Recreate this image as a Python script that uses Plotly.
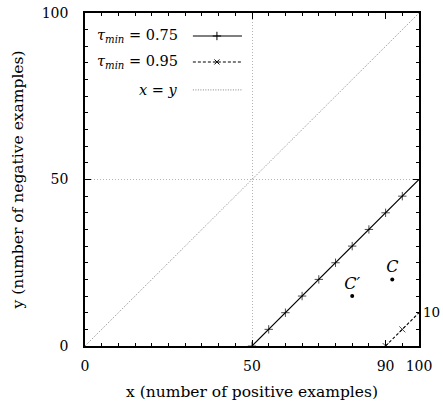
import plotly.graph_objects as go

# ---- data ----
tau075_x = [50, 55, 60, 65, 70, 75, 80, 85, 90, 95, 100]
tau075_y = [0, 5, 10, 15, 20, 25, 30, 35, 40, 45, 50]
tau095_x = [90, 95, 100]
tau095_y = [0, 5, 10]
diag_x = [0, 100]
diag_y = [0, 100]
pts_x = [80, 92]
pts_y = [15, 20]
pts_labels = ["<i>C′</i>", "<i>C</i>"]
xtick_vals = [0, 50, 90, 100]
ytick_vals = [0, 50, 100]
right_tick_vals = [10]
legend_labels = ["<i>τ<sub>min</sub></i> = 0.75", "<i>τ<sub>min</sub></i> = 0.95", "<i>x</i> = <i>y</i>"]

FONT = "DejaVu Serif"
GRID = "#b4b4b4"
fig = go.Figure()

# x = y dotted
fig.add_trace(go.Scatter(x=diag_x, y=diag_y, mode="lines", xaxis="x3",
                         line=dict(color="#666666", width=0.8, dash="1px,1.5px"), showlegend=False))
# tau 0.75
fig.add_trace(go.Scatter(x=tau075_x, y=tau075_y, mode="lines+markers",
                         line=dict(color="black", width=1.1),
                         marker=dict(symbol="cross-thin-open", color="black",
                                     size=[6]*(len(tau075_x)-1)+[0],
                                     line=dict(color="black", width=1)),
                         showlegend=False))
# tau 0.95
fig.add_trace(go.Scatter(x=tau095_x, y=tau095_y, mode="lines+markers",
                         line=dict(color="black", width=1.1, dash="3px,2px"),
                         marker=dict(symbol="x-thin-open", color="black",
                                     size=[6]*(len(tau095_x)-1)+[0],
                                     line=dict(color="black", width=1)),
                         showlegend=False))
# points C', C
fig.add_trace(go.Scatter(x=pts_x, y=pts_y, mode="markers+text", yaxis="y2",
                         text=pts_labels, textposition="top center",
                         textfont=dict(family=FONT, size=16, color="black"),
                         marker=dict(color="black", size=4), showlegend=False))

# ---- custom gnuplot-style key (overlay axes in plot-fraction units) ----
key_rows = [0.931, 0.853, 0.769]
key_x0, key_xm, key_x1 = 0.323, 0.395, 0.470
key_text_x = 0.284
styles = [
    dict(line=dict(color="black", width=1.1), sym="cross-thin-open", size=6),
    dict(line=dict(color="black", width=1.1, dash="3px,2px"), sym="x-thin-open", size=5),
    dict(line=dict(color="#666666", width=0.8, dash="1px,1.5px"), sym=None, size=0),
]
for row, st, lab in zip(key_rows, styles, legend_labels):
    fig.add_trace(go.Scatter(x=[key_x0, key_x1], y=[row, row], mode="lines", xaxis="x4", yaxis="y4",
                             line=st["line"], showlegend=False))
    if st["sym"]:
        fig.add_trace(go.Scatter(x=[key_xm], y=[row], mode="markers", xaxis="x4", yaxis="y4",
                                 marker=dict(symbol=st["sym"], size=st["size"], color="black",
                                             line=dict(color="black", width=1)),
                                 showlegend=False))
    fig.add_annotation(x=key_text_x, y=row, xref="x4", yref="y4", text=lab, showarrow=False,
                       xanchor="right", yanchor="middle",
                       font=dict(family=FONT, size=14.5, color="black"))

axis_common = dict(range=[0, 100], showline=True, linecolor="black", linewidth=1.5, mirror="ticks",
                   ticks="inside", ticklen=6, tickwidth=1, tickcolor="black", zeroline=False,
                   automargin=False, tickfont=dict(family=FONT, size=14, color="black"))

fig.update_layout(
    width=443, height=407,
    margin=dict(l=85, r=24, t=13, b=61, autoexpand=False),
    paper_bgcolor="white", plot_bgcolor="white",
    font=dict(family=FONT, size=14, color="black"),
    xaxis=dict(**axis_common, tickmode="array", tickvals=xtick_vals, showgrid=False,
               minor=dict(tickmode="linear", tick0=0, dtick=5, ticks="inside", ticklen=3,
                          tickcolor="black", showgrid=False),
               ticklabelstandoff=6,
               title=dict(text="x (number of positive examples)", standoff=14,
                          font=dict(family=FONT, size=15.5))),
    yaxis=dict(**axis_common, tickmode="array", tickvals=ytick_vals, showgrid=True,
               gridcolor=GRID, griddash="1px,2px", gridwidth=0.8,
               minor=dict(tickmode="linear", tick0=0, dtick=5, ticks="inside", ticklen=3,
                          tickcolor="black", showgrid=False),
               ticklabelstandoff=12,
               title=dict(text="y (number of negative examples)", standoff=14,
                          font=dict(family=FONT, size=15.5))),
    xaxis3=dict(overlaying="x", range=[0, 100], tickmode="array", tickvals=[50], showgrid=True,
                gridcolor=GRID, griddash="1px,2px", gridwidth=0.8, showticklabels=False,
                ticks="", showline=False, zeroline=False, automargin=False),
    yaxis2=dict(overlaying="y", side="right", range=[0, 100], tickmode="array",
                tickvals=right_tick_vals, ticks="", showline=False, showgrid=False, zeroline=False,
                automargin=False, ticklabelstandoff=3,
                tickfont=dict(family=FONT, size=13.5, color="black")),
    xaxis4=dict(overlaying="x", range=[0, 1], visible=False),
    yaxis4=dict(overlaying="y", range=[0, 1], visible=False),
)

fig.write_html("out.html")
